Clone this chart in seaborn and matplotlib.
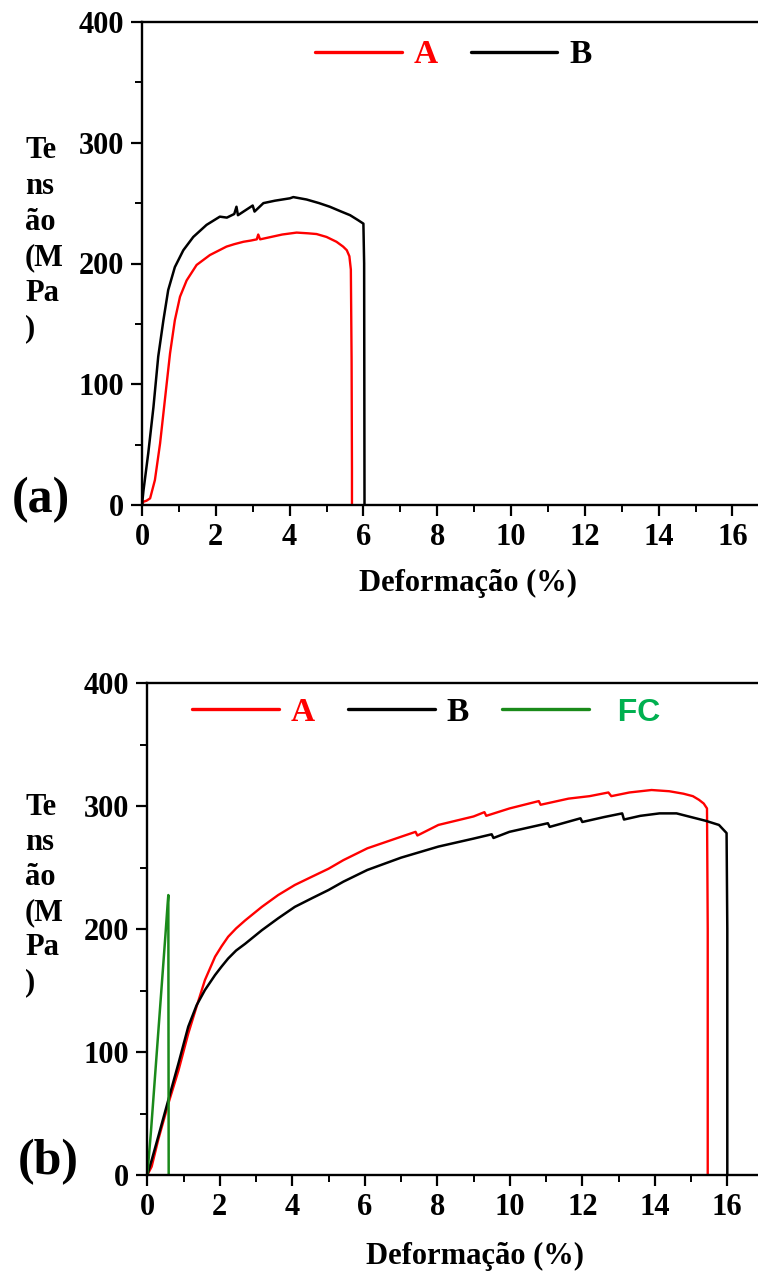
import numpy as np
import pandas as pd
import matplotlib
matplotlib.use("Agg")
import matplotlib.pyplot as plt
from matplotlib.ticker import MultipleLocator
import seaborn as sns

# ---------------- data ----------------
# Panel (a)
a_A_x = [0, 0.04, 0.12, 0.22, 0.35, 0.49, 0.62, 0.76, 0.89, 1.03, 1.21, 1.48, 1.84, 2.29, 2.5,
         2.75, 2.95, 3.11, 3.15, 3.2, 3.5, 3.8, 4.19, 4.5, 4.73, 5.0, 5.27, 5.45, 5.55, 5.62,
         5.66, 5.68, 5.69, 5.69]
a_A_y = [0, 2.8, 3.5, 5.5, 20.7, 51, 87, 125.6, 153, 172.5, 186, 198.8, 207, 214, 216,
         218, 219, 220, 224, 220, 222, 224, 225.6, 225, 224.4, 222, 218, 214, 211, 206,
         195, 120, 30, 0]

a_B_x = [0, 0.04, 0.17, 0.31, 0.44, 0.58, 0.71, 0.89, 1.12, 1.39, 1.75, 2.11, 2.3, 2.5,
         2.56, 2.6, 2.8, 3.0, 3.05, 3.29, 3.6, 4.01, 4.1, 4.46, 4.8, 5.09, 5.4, 5.64, 5.85, 6.0,
         6.02, 6.03]
a_B_y = [0, 12, 43, 81, 123, 153, 178, 197, 211, 222, 232, 238.8, 238, 241,
         247, 240, 244, 248, 243, 250, 252, 254, 255, 253, 250, 247, 243, 240, 236, 233,
         200, 0]

# Panel (b)
b_A_x = [0, 0.12, 0.3, 0.58, 0.86, 1.13, 1.36, 1.59, 1.87, 2.05, 2.23, 2.45, 2.7, 3.16, 3.61,
         4.07, 4.54, 5.0, 5.41, 6.07, 7.0, 7.4, 7.45, 8.03, 9.0, 9.3, 9.35, 9.99, 10.8, 10.85,
         11.62, 12.2, 12.72, 12.8, 13.3, 13.91, 14.4, 14.79, 15.05, 15.22, 15.35, 15.44, 15.46,
         15.46]
b_A_y = [0, 6.8, 28.5, 58, 85, 115, 137, 158.5, 177.5, 186, 193.7, 200.5, 207, 218, 227.6,
         235.8, 242.5, 249, 256, 265.6, 275, 279, 276, 284.6, 291.5, 295, 292, 298, 304, 301,
         306, 308, 311, 308, 311, 313, 312, 310, 308, 305, 302, 298, 200,
         0]

b_B_x = [0, 0.12, 0.3, 0.58, 0.86, 1.13, 1.36, 1.59, 1.87, 2.05, 2.23, 2.45, 2.7, 3.16, 3.61,
         4.07, 4.54, 5.0, 5.41, 6.07, 7.0, 8.03, 9.0, 9.5, 9.55, 9.99, 11.05, 11.1, 11.95, 12.0,
         12.6, 13.1, 13.15, 13.6, 14.13, 14.6, 15.0, 15.4, 15.77, 15.98, 16.0, 16.0]
b_B_y = [0, 12, 31, 61, 90.8, 120.6, 138, 150.4, 162.6, 169.5, 176, 182.5, 188, 199, 208.7,
         218, 225, 231.7, 238.5, 248, 258, 267, 273.5, 277, 274, 279, 286, 283, 290, 287,
         291, 294, 289, 292, 294, 294, 291, 288, 284.6, 278, 200, 0]

b_FC_x = [0, 0.1, 0.2, 0.3, 0.4, 0.5, 0.56, 0.58, 0.59]
b_FC_y = [0, 35, 75, 115, 155, 195, 220, 227.6, 0]

x_ticks = [0, 2, 4, 6, 8, 10, 12, 14, 16]
y_ticks = [0, 100, 200, 300, 400]
ylabel_text = "Te\nns\não\n(M\nPa\n)"
xlabel_text = "Deformação (%)"

# ---------------- style ----------------
sns.set_style("ticks")
plt.rcParams['font.family'] = ['Liberation Serif', 'DejaVu Serif']
plt.rcParams['font.weight'] = 'bold'
for k in ['text.color', 'axes.labelcolor', 'xtick.color', 'ytick.color', 'axes.edgecolor']:
    plt.rcParams[k] = 'black'

W, H = 758, 1274
fig = plt.figure(figsize=(W / 100, H / 100), dpi=100)


def make_axes(left_px, top_px, bottom_px, unit_px):
    left = left_px / W
    bottom = 1 - bottom_px / H
    height = (bottom_px - top_px) / H
    width = (W - left_px) / W
    ax = fig.add_axes([left, bottom, width, height])
    ax.set_xlim(0, (W - left_px) / unit_px)
    ax.set_ylim(0, 400)
    return ax


def style_axes(ax):
    ax.set_xticks(x_ticks)
    ax.set_yticks(y_ticks)
    ax.xaxis.set_minor_locator(MultipleLocator(1))
    ax.yaxis.set_minor_locator(MultipleLocator(50))
    ax.tick_params(which='major', direction='out', length=8, width=1.6,
                   labelsize=22, pad=5, color='black', labelcolor='black')
    ax.tick_params(which='minor', direction='out', length=5, width=1.4, color='black')
    for s in ['left', 'bottom', 'top']:
        ax.spines[s].set_linewidth(1.7)
        ax.spines[s].set_color('black')
    ax.spines['right'].set_visible(False)
    for lab in ax.get_xticklabels() + ax.get_yticklabels():
        lab.set_fontweight('bold')
    ax.set_xlabel('')
    ax.set_ylabel('')


def legend(ax, anchor, fc=False):
    leg = ax.legend(loc='center', bbox_to_anchor=anchor, ncol=3 if fc else 2,
                    frameon=False, handlelength=2.6, handletextpad=0.35,
                    columnspacing=1.0, prop={'family': 'Liberation Serif',
                                             'weight': 'bold', 'size': 24})
    cols = ['#ff0000', 'black', '#00b050']
    for t, c in zip(leg.get_texts(), cols):
        t.set_color(c)
    for ln in leg.get_lines():
        ln.set_linewidth(2.4)
    if fc:
        t = leg.get_texts()[2]
        t.set_fontfamily('Liberation Sans')
        t.set_fontsize(23)
    return leg


# ---------------- panel (a) ----------------
ax1 = make_axes(142, 22, 505, 36.9)
dfa_A = pd.DataFrame({'x': a_A_x, 'y': a_A_y})
dfa_B = pd.DataFrame({'x': a_B_x, 'y': a_B_y})
sns.lineplot(data=dfa_A, x='x', y='y', ax=ax1, sort=False, estimator=None,
             color='#ff0000', lw=1.7, label='A')
sns.lineplot(data=dfa_B, x='x', y='y', ax=ax1, sort=False, estimator=None,
             color='black', lw=1.8, label='B')
style_axes(ax1)
legend(ax1, (0.505, 0.932))

# ---------------- panel (b) ----------------
ax2 = make_axes(147.3, 683, 1175, 36.25)
dfb_A = pd.DataFrame({'x': b_A_x, 'y': b_A_y})
dfb_B = pd.DataFrame({'x': b_B_x, 'y': b_B_y})
dfb_F = pd.DataFrame({'x': b_FC_x, 'y': b_FC_y})
sns.lineplot(data=dfb_A, x='x', y='y', ax=ax2, sort=False, estimator=None,
             color='#ff0000', lw=1.7, label='A')
sns.lineplot(data=dfb_B, x='x', y='y', ax=ax2, sort=False, estimator=None,
             color='black', lw=1.8, label='B')
sns.lineplot(data=dfb_F, x='x', y='y', ax=ax2, sort=False, estimator=None,
             color='#1a8a1a', lw=1.8, label='  FC')
style_axes(ax2)
legend(ax2, (0.457, 0.941), fc=True)

# ---------------- texts ----------------
fig.text(25 / W, 1 - 240 / H, ylabel_text, ha='left', va='center', fontsize=22,
         fontweight='bold', linespacing=1.3)
fig.text(25 / W, 1 - 895 / H, ylabel_text, ha='left', va='center', fontsize=22,
         fontweight='bold', linespacing=1.27)
fig.text(41 / W, 1 - 500 / H, '(a)', ha='center', va='center', fontsize=36, fontweight='bold')
fig.text(48 / W, 1 - 1162 / H, '(b)', ha='center', va='center', fontsize=36, fontweight='bold')
fig.text(468 / W, 1 - 583 / H, xlabel_text, ha='center', va='center', fontsize=22, fontweight='bold')
fig.text(475 / W, 1 - 1256 / H, xlabel_text, ha='center', va='center', fontsize=22, fontweight='bold')

fig.savefig('out.png', dpi=100)
